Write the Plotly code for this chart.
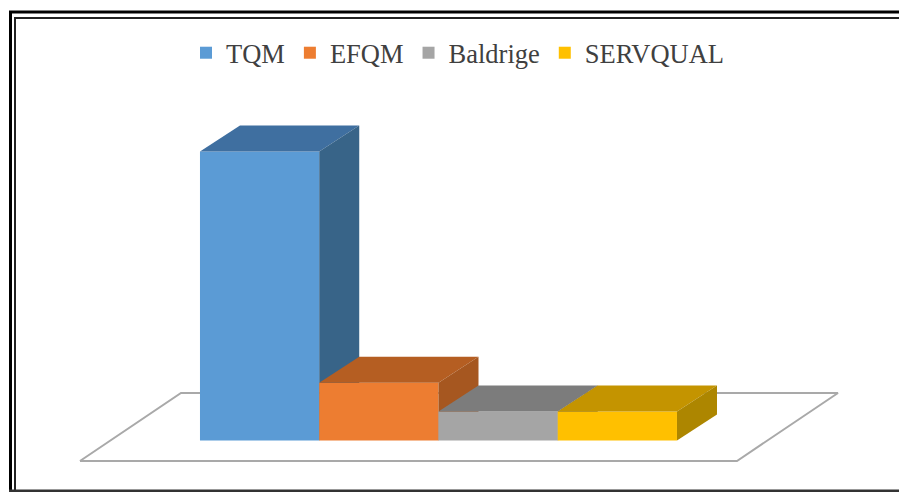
import plotly.graph_objects as go

# Data
categories = ["TQM", "EFQM", "Baldrige", "SERVQUAL"]
values = [100, 20, 10, 10]
front_colors = ["#5B9BD5", "#ED7D31", "#A5A5A5", "#FFC000"]
top_colors = ["#3F6FA0", "#B55E22", "#7C7C7C", "#C49400"]
side_colors = ["#386488", "#A65720", "#6F6F6F", "#AD8600"]

# Projection / layout
W, H = 899, 492
PX_PER_X, PX_PER_Y = 119.25, 2.89
X0_PX, Y0_PX = 259.6, 440.5          # pixel of x=0, y=0
DX, DY = 40 / PX_PER_X, 26 / PX_PER_Y  # oblique depth in data units
xr = [-X0_PX / PX_PER_X, (W - X0_PX) / PX_PER_X]
yr = [-(H - Y0_PX) / PX_PER_Y, Y0_PX / PX_PER_Y]

fig = go.Figure()

# Floor, in the base axes
fl_x0, fl_x1 = -0.5 - 120 / PX_PER_X, 3.5 + 60 / PX_PER_X
fl_y0 = -20.5 / PX_PER_Y
fl_dx, fl_dy = 101 / PX_PER_X, 68 / PX_PER_Y
fig.add_trace(go.Scatter(
    x=[fl_x0, fl_x1, fl_x1 + fl_dx, fl_x0 + fl_dx, fl_x0],
    y=[fl_y0, fl_y0, fl_y0 + fl_dy, fl_y0 + fl_dy, fl_y0],
    mode="lines", line=dict(color="#A9A9A9", width=2),
    showlegend=False, hoverinfo="skip"))

axes = {}
for i, (name, v) in enumerate(zip(categories, values)):
    n = i + 2
    xa, ya = f"x{n}", f"y{n}"
    l, r = i - 0.5, i + 0.5
    fig.add_trace(go.Bar(x=[i], y=[v], width=1, name=name, xaxis=xa, yaxis=ya,
                         marker=dict(color=front_colors[i], line=dict(width=0))))
    fig.add_trace(go.Scatter(
        x=[l, r, r + DX, l + DX, l], y=[v, v, v + DY, v + DY, v],
        fill="toself", fillcolor=top_colors[i], mode="lines", line=dict(width=0),
        showlegend=False, hoverinfo="skip", xaxis=xa, yaxis=ya))
    fig.add_trace(go.Scatter(
        x=[r, r + DX, r + DX, r, r], y=[0, DY, v + DY, v, 0],
        fill="toself", fillcolor=side_colors[i], mode="lines", line=dict(width=0),
        showlegend=False, hoverinfo="skip", xaxis=xa, yaxis=ya))
    axes[f"xaxis{n}"] = dict(range=xr, visible=False, overlaying="x", fixedrange=True)
    axes[f"yaxis{n}"] = dict(range=yr, visible=False, overlaying="y", fixedrange=True)

def hline(y, x0, x1, w, c="#000000"):
    return dict(type="line", xref="paper", yref="paper", x0=x0 / W, x1=x1 / W,
                y0=1 - y / H, y1=1 - y / H, line=dict(color=c, width=w))

def vline(x, y0, y1, w, c="#000000"):
    return dict(type="line", xref="paper", yref="paper", x0=x / W, x1=x / W,
                y0=1 - y0 / H, y1=1 - y1 / H, line=dict(color=c, width=w))

frame = [
    hline(12, 9, W, 3), hline(18, 14, W, 2, "#222222"),
    vline(10.5, 11, H, 3), vline(15, 17, H, 2, "#222222"),
    hline(491, 9, W, 3, "#333333"),
]

fig.update_layout(
    width=W, height=H, autosize=False,
    margin=dict(l=0, r=0, t=0, b=0),
    paper_bgcolor="white", plot_bgcolor="white",
    barmode="overlay",
    xaxis=dict(range=xr, visible=False, fixedrange=True),
    yaxis=dict(range=yr, visible=False, fixedrange=True),
    shapes=frame,
    legend=dict(orientation="h", x=186 / W, xanchor="left", y=1 - 29 / H, yanchor="top",
                font=dict(family="Liberation Serif", size=26.5, color="#404040"),
                bgcolor="rgba(0,0,0,0)", itemwidth=30, itemclick=False, itemdoubleclick=False),
    **axes,
)

fig.write_html("out.html", config={"displayModeBar": False},
               post_script="document.body.style.margin='0';document.documentElement.style.overflow='hidden';")
